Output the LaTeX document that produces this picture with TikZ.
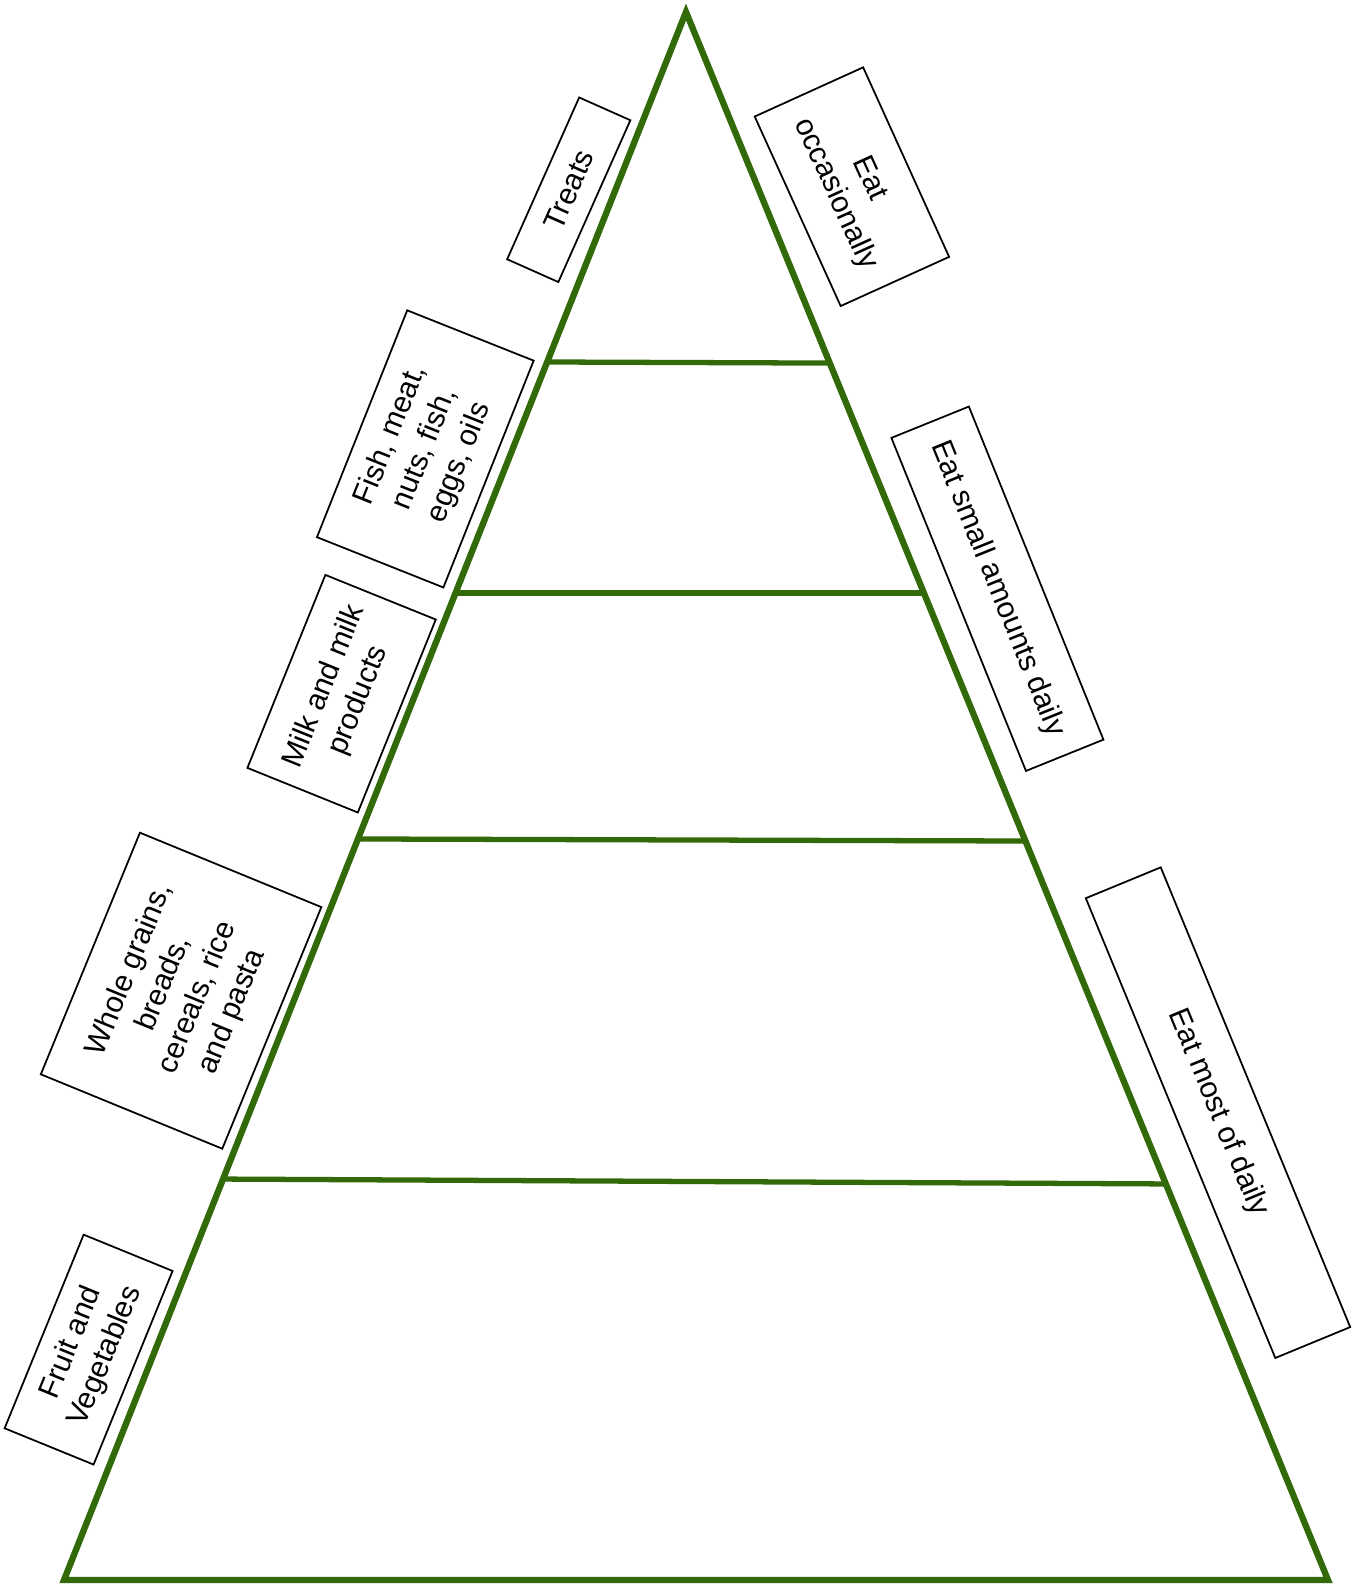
\documentclass[tikz,border=0pt]{standalone}
\usepackage{fontspec}
\setmainfont{Liberation Sans}
\usetikzlibrary{calc}
\definecolor{pyrgreen}{RGB}{50,106,10}

\begin{document}
\begin{tikzpicture}[x=0.01cm, y=-0.01cm,
  edge/.style={draw=pyrgreen, line width=1.8pt, line join=miter},
  rung/.style={draw=pyrgreen, line width=1.5pt},
  tag/.style={draw=black, line width=0.5pt, fill=white, inner sep=0pt, align=center,
    font=\fontsize{8.5}{10.5}\selectfont}]
\useasboundingbox (0,0) rectangle (1361,1588);
\coordinate (apex) at (686,12);
\coordinate (bl) at (64,1580);
\coordinate (br) at (1328,1580);
\draw[edge] (apex) -- (bl) -- (br) -- cycle;
\draw[rung] ($(apex)!0.2232!(bl)$) -- ($(apex)!0.2239!(br)$);
\draw[rung] ($(apex)!0.3705!(bl)$) -- ($(apex)!0.3705!(br)$);
\draw[rung] ($(apex)!0.5274!(bl)$) -- ($(apex)!0.5287!(br)$);
\draw[rung] ($(apex)!0.7443!(bl)$) -- ($(apex)!0.7474!(br)$);
\node[tag, rotate=66, minimum width=1.77cm, minimum height=0.56cm] (treats) at (568.75,189.75) {Treats};
\node[tag, rotate=68.3, minimum width=2.44cm, minimum height=1.36cm] (protein) at (425.3,448.9) {Fish, meat,\\nuts, fish,\\eggs, oils};
\node[tag, rotate=68, minimum width=2.08cm, minimum height=1.19cm] (dairy) at (341.6,693.7) {Milk and milk\\products};
\node[tag, rotate=67.7, minimum width=2.61cm, minimum height=1.96cm] (grains) at (181.1,990.7) {Whole grains,\\breads,\\cereals, rice\\and pasta};
\node[tag, rotate=67.8, minimum width=2.09cm, minimum height=0.96cm] (fruitveg) at (88.6,1349.6) {Fruit and\\Vegetables};
\node[tag, rotate=-65.6, minimum width=2.08cm, minimum height=1.19cm] (occasional) at (851.9,186.7) {Eat\\occasionally};
\node[tag, rotate=-68, minimum width=3.59cm, minimum height=0.835cm] (smalldaily) at (997.4,588.75) {Eat small amounts daily};
\node[tag, rotate=-67.6, minimum width=4.97cm, minimum height=0.81cm] (mostdaily) at (1218,1112.65) {Eat most of daily};
\end{tikzpicture}
\end{document}
